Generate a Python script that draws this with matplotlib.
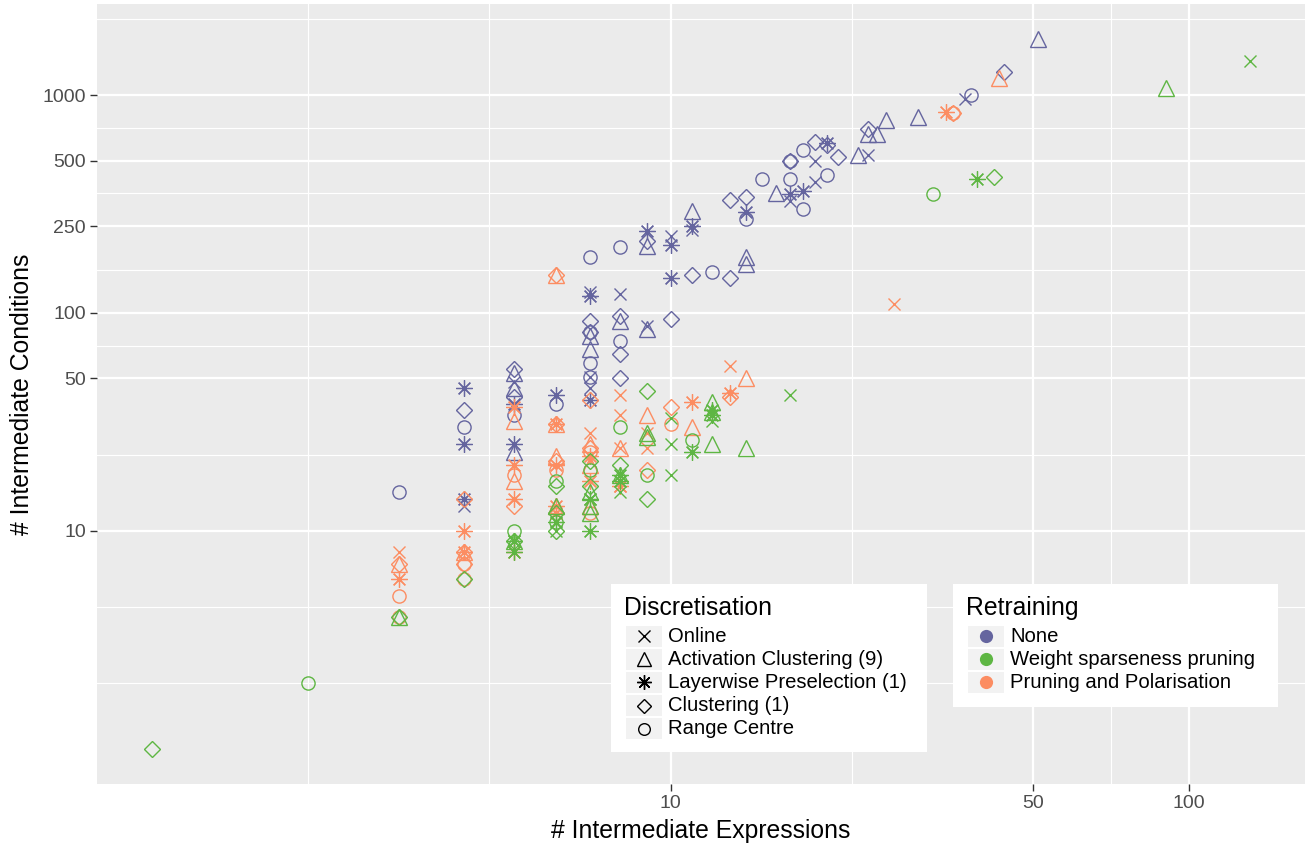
import numpy as np
import matplotlib
matplotlib.use("Agg")
import matplotlib.pyplot as plt
from matplotlib.lines import Line2D
from matplotlib.patches import Rectangle

plt.rcParams["font.family"] = ["Liberation Sans", "DejaVu Sans"]

# ---------------- data ----------------
disc_codes = ["O", "A", "L", "C", "R"]
disc_labels = ["Online", "Activation Clustering (9)", "Layerwise Preselection (1)",
               "Clustering (1)", "Range Centre"]
retr_labels = ["None", "Weight sparseness pruning", "Pruning and Polarisation"]
retr_colors = ["#65659F", "#5EB643", "#FC8D62"]

x_breaks = [10, 50, 100]
y_breaks = [10, 50, 100, 250, 500, 1000]

# Retraining: None
none_expr = [3, 4, 4, 4, 4, 4, 4, 5, 5, 5, 5, 5, 5, 5, 5, 5, 6, 6,
             7, 7, 7, 7, 7, 7, 7, 7, 7, 7, 7, 7, 7,
             8, 8, 8, 8, 8, 8, 8, 9, 9, 9, 9, 9, 10, 10, 10, 10,
             11, 11, 11, 11, 12, 13, 13, 14, 14, 14, 14, 14, 15, 16,
             17, 17, 17, 17, 17, 18, 18, 18, 19, 19, 19, 20, 20, 20, 21,
             23, 24, 24, 24, 25, 26, 30, 37, 38, 44, 51]
none_cond = [15, 45, 36, 30, 25, 14, 13, 55, 53, 48, 45, 41, 38, 34, 25, 23, 42, 38,
             180, 125, 120, 92, 82, 82, 78, 68, 59, 51, 51, 45, 40,
             200, 122, 97, 92, 74, 65, 50, 238, 213, 203, 87, 84, 225, 205, 145, 94,
             295, 250, 240, 150, 154, 330, 145, 340, 290, 270, 180, 167, 410, 355,
             500, 500, 410, 350, 327, 560, 363, 300, 610, 500, 400, 590, 600, 430, 520,
             530, 530, 700, 660, 660, 770, 790, 960, 1000, 1280, 1800]
none_disc = list("RLCRLLO" "CAOACLRLA" "LR"
                 "ROLCCRAARROOL"
                 "ROCARCC" "LCAOA" "OLLC"
                 "ALOC" "R" "CC" "CLRAA" "R" "A"
                 "CRRLO" "RLR" "COO" "CLR" "C"
                 "A" "OCA" "A" "A" "A" "O" "R" "C" "A")

# Retraining: Weight sparseness pruning
wsp_expr = [1, 2, 3, 3, 4, 5, 5, 5, 5, 5, 5,
            6, 6, 6, 6, 6, 6, 6, 6,
            7, 7, 7, 7, 7, 7, 7, 7, 7,
            8, 8, 8, 8, 8, 8, 9, 9, 9, 9, 9, 10, 10, 10, 11, 11,
            12, 12, 12, 12, 12, 12, 14, 17, 32, 39, 42, 90, 131]
wsp_cond = [1, 2, 4, 4, 6, 10, 9, 9, 9, 9, 8,
            17, 16, 13, 12, 11, 11, 10, 10,
            21, 19, 16, 15, 14, 14, 13, 12, 10,
            30, 20, 18, 18, 17, 15, 44, 28, 27, 18, 14, 33, 25, 18, 26, 23,
            39, 36, 35, 34, 32, 25, 24, 42, 350, 410, 420, 1080, 1430]
wsp_disc = list("C" "R" "AC" "C" "RACLOL"
                "RCACRLOC"
                "CRCALOAAL"
                "RCALLO" "CAARC" "OOO" "RL"
                "ALALOA" "A" "O" "R" "L" "C" "A" "O")

# Retraining: Pruning and Polarisation
pp_expr = [3, 3, 3, 3, 3, 3, 4, 4, 4, 4, 4, 4, 4, 4,
           5, 5, 5, 5, 5, 5, 5, 5,
           6, 6, 6, 6, 6, 6, 6, 6, 6, 6, 6, 6,
           7, 7, 7, 7, 7, 7, 7, 7, 7, 7, 7,
           8, 8, 8, 8, 8, 8, 9, 9, 9, 9, 10, 10, 11, 11,
           13, 13, 13, 14, 27, 34, 35, 35, 43]
pp_cond = [8, 7, 7, 6, 5, 4, 14, 10, 8, 8, 8, 7, 7, 6,
           37, 32, 20, 18, 17, 14, 13, 8,
           150, 150, 31, 31, 31, 22, 21, 20, 19, 13, 13, 12,
           40, 28, 25, 24, 23, 22, 21, 20, 17, 13, 12,
           42, 34, 24, 24, 16, 16, 34, 28, 24, 19, 37, 31, 39, 30,
           57, 43, 41, 50, 110, 835, 830, 830, 1200]
pp_disc = list("OCALRR" "CLALCCRR"
               "LALRALCL"
               "CALACACLRLAL"
               "COACRLOALAR"
               "OOAOLO" "AOOC" "CR" "LA"
               "OLC" "A" "O" "L" "CR" "A")

# ---------------- styling ----------------
W, H = 1312, 847
fig = plt.figure(figsize=(W / 100, H / 100), dpi=100)
L, R, T, B = 97, 1305, 4, 784
ax = fig.add_axes([L / W, 1 - B / H, (R - L) / W, (B - T) / H])
ax.set_facecolor("#EBEBEB")
for s in ax.spines.values():
    s.set_visible(False)

mstyle = {
    "O": dict(marker="x", ms=9.2),
    "A": dict(marker="^", ms=11.8),
    "L": dict(marker=(8, 2, 0), ms=11.8),
    "C": dict(marker="D", ms=8.4),
    "R": dict(marker="o", ms=9.5),
}

groups = [(none_expr, none_cond, none_disc, retr_colors[0]),
          (pp_expr, pp_cond, pp_disc, retr_colors[2]),
          (wsp_expr, wsp_cond, wsp_disc, retr_colors[1])]
for xs, ys, ds, col in groups:
    xs = np.array(xs); ys = np.array(ys); ds = np.array(ds)
    for code in disc_codes:
        m = ds == code
        if m.any():
            ax.plot(xs[m], ys[m], ls="none", mfc="none", mec=col,
                    mew=0.9 if code == "L" else 1.0, zorder=3, **mstyle[code])

ax.set_xscale("log")
ax.set_yscale("log")

all_x = np.log10(np.concatenate([none_expr, wsp_expr, pp_expr]))
all_y = np.log10(np.concatenate([none_cond, wsp_cond, pp_cond]))
def lims(v):
    lo, hi = v.min(), v.max()
    e = 0.05 * (hi - lo)
    return 10 ** (lo - e), 10 ** (hi + e)
ax.set_xlim(*lims(all_x))
ax.set_ylim(*lims(all_y))

def minor_breaks(breaks, lim):
    b = list(np.log10(breaks))
    lo, hi = np.log10(lim[0]), np.log10(lim[1])
    bd = b[1] - b[0]
    if lo < b[0]:
        b = [b[0] - bd] + b
    if hi > b[-1]:
        b = b + [b[-1] + bd]
    out = []
    for a, c in zip(b[:-1], b[1:]):
        out += [a, (a + c) / 2]
    out.append(b[-1])
    return [10 ** v for v in out if lo <= v <= hi]

ax.set_xticks(x_breaks)
ax.set_xticklabels([str(v) for v in x_breaks])
ax.set_yticks(y_breaks)
ax.set_yticklabels([str(v) for v in y_breaks])
ax.set_xticks(minor_breaks(x_breaks, ax.get_xlim()), minor=True)
ax.set_yticks(minor_breaks(y_breaks, ax.get_ylim()), minor=True)
ax.xaxis.set_minor_formatter(matplotlib.ticker.NullFormatter())
ax.yaxis.set_minor_formatter(matplotlib.ticker.NullFormatter())
ax.tick_params(which="minor", length=0)
ax.tick_params(which="major", length=5, width=1.0, color="#333333",
               labelsize=14, labelcolor="#4D4D4D", pad=3)
ax.grid(which="major", color="white", lw=1.6, zorder=0)
ax.grid(which="minor", color="white", lw=0.8, zorder=0)
ax.set_axisbelow(True)

fig.text(701 / W, 1 - 831 / H, "# Intermediate Expressions", ha="center",
         va="center", fontsize=17.8, color="black")
fig.text(22 / W, 1 - 394 / H, "# Intermediate Conditions", ha="center",
         va="center", rotation=90, fontsize=17.8, color="black")

# ---------------- legends ----------------
def fx(x):
    return x / W

def fy(y):
    return 1 - y / H

def rect(x0, y0, x1, y1, color):
    fig.add_artist(Rectangle((fx(x0), fy(y1)), (x1 - x0) / W, (y1 - y0) / H,
                             transform=fig.transFigure, facecolor=color,
                             edgecolor="none", zorder=5))

def legend(x0, y0, x1, y1, title, labels, handles):
    rect(x0, y0, x1, y1, "white")
    fig.text(fx(x0 + 13), fy(y0 + 23.5), title, fontsize=17.8, ha="left",
             va="center", zorder=6)
    for i, (lab, h) in enumerate(zip(labels, handles)):
        cy = y0 + 52 + i * 23.2
        rect(x0 + 15, cy - 10.5, x0 + 51, cy + 10.5, "#F2F2F2")
        fig.add_artist(Line2D([fx(x0 + 33)], [fy(cy)], transform=fig.transFigure,
                              ls="none", zorder=7, **h))
        fig.text(fx(x0 + 57), fy(cy), lab, fontsize=14.6, ha="left",
                 va="center", zorder=7)

disc_handles = []
for code in disc_codes:
    st = dict(mstyle[code])
    st["ms"] = st["ms"] * 0.88
    disc_handles.append(dict(mfc="none", mec="black", mew=1.0, **st))
legend(611, 584, 927, 752, "Discretisation", disc_labels, disc_handles)

retr_handles = [dict(marker="o", ms=9.5, mfc=c, mec=c, mew=0) for c in retr_colors]
legend(953, 584, 1278, 707, "Retraining", retr_labels, retr_handles)

fig.savefig("out.png", dpi=100)
